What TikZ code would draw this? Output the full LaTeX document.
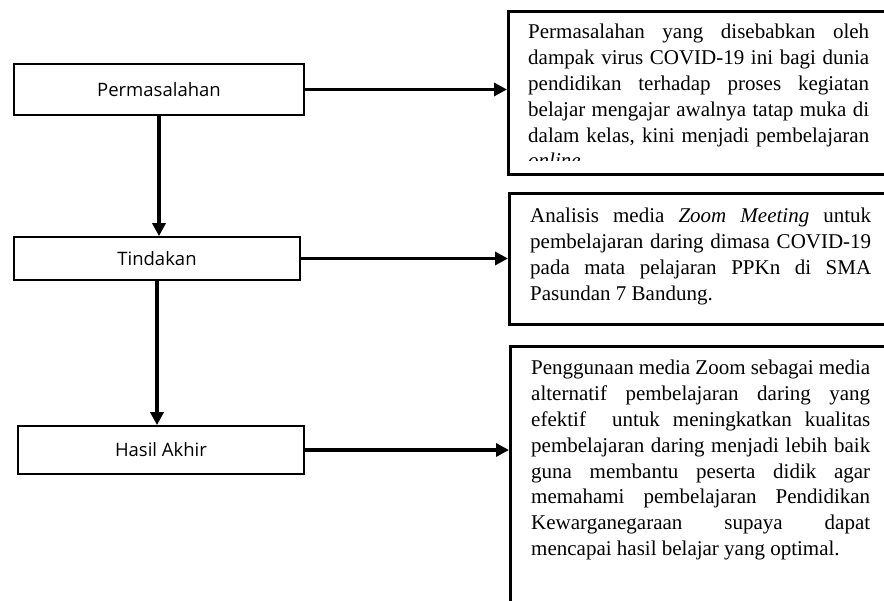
\documentclass[tikz,border=0pt]{standalone}
\usepackage{fontspec}
\setmainfont{Liberation Serif}
\newfontfamily\labelfont{Open Sans}
\usetikzlibrary{arrows.meta,positioning}

% gaya kotak dan panah
\tikzset{
  kotak/.style={draw, line width=1.7pt, rectangle, inner sep=0pt,
    font=\labelfont\fontsize{18.5}{22}\selectfont},
  kotakket/.style={draw, line width=2.6pt, rectangle, anchor=north west, inner sep=0pt},
  panah/.style={line width=3.5pt, -{Triangle[length=13pt,width=13pt]}},
  teks/.style={anchor=base west, inner sep=0pt, font=\fontsize{21}{25.8}\selectfont}
}
\newcommand{\baris}[1]{\hbox to \hsize{\spaceskip=.25em plus 1fil minus .05em\relax #1}}
\newcommand{\akhir}[1]{\hbox{#1}}

\begin{document}
\begin{tikzpicture}[x=1pt,y=-1pt]
    \useasboundingbox (0,0) rectangle (884,601);
    \clip (0,0) rectangle (884,601);

    % kotak kiri
    \node[kotak, minimum width=290pt, minimum height=51pt] (masalah) at (159,89.5) {Permasalahan};
    \node[kotak, minimum width=286pt, minimum height=43pt] (tindakan) at (157,258.5) {Tindakan};
    \node[kotak, minimum width=286pt, minimum height=48pt] (hasil) at (161,450) {Hasil Akhir};

    % kotak keterangan kanan
    \node[kotakket, minimum width=420pt, minimum height=163pt] (ketmasalah) at (507,10) {};
    \node[kotakket, minimum width=420pt, minimum height=131pt] (kettindakan) at (508,192) {};
    \node[kotakket, minimum width=420pt, minimum height=300pt] (kethasil) at (509,345) {};

    % isi keterangan
    \begin{scope}
        \clip (507,10) rectangle (900,161);
        \node[teks] (teksmasalah) at (528,39) {\vtop{\hsize=341pt
            \baris{Permasalahan yang disebabkan oleh}
            \baris{dampak virus COVID-19 ini bagi dunia}
            \baris{pendidikan terhadap proses kegiatan}
            \baris{belajar mengajar awalnya tatap muka di}
            \baris{dalam kelas, kini menjadi pembelajaran}
            \akhir{\textit{online.}}}};
    \end{scope}
    \node[teks] (tekstindakan) at (530,223) {\vtop{\hsize=341pt
        \baris{Analisis media \textit{Zoom Meeting} untuk}
        \baris{pembelajaran daring dimasa COVID-19}
        \baris{pada mata pelajaran PPKn di SMA}
        \akhir{Pasundan 7 Bandung.}}};
    \node[teks] (tekshasil) at (531,375) {\vtop{\hsize=339pt
        \baris{Penggunaan media Zoom sebagai media}
        \baris{alternatif pembelajaran daring yang}
        \baris{efektif\ \ untuk meningkatkan kualitas}
        \baris{pembelajaran daring menjadi lebih baik}
        \baris{guna membantu peserta didik agar}
        \baris{memahami pembelajaran Pendidikan}
        \baris{Kewarganegaraan supaya dapat}
        \akhir{mencapai hasil belajar yang optimal.}}};

    % panah ke bawah
    \draw[panah] (masalah.south) -- (masalah.south |- tindakan.north);
    \draw[panah] (tindakan.south) -- (tindakan.south |- hasil.north);

    % panah ke kanan
    \draw[panah] (masalah.east) -- (masalah.east -| ketmasalah.west);
    \draw[panah] (tindakan.east) -- (tindakan.east -| kettindakan.west);
    \draw[panah] (hasil.east) -- (hasil.east -| kethasil.west);
\end{tikzpicture}
\end{document}
